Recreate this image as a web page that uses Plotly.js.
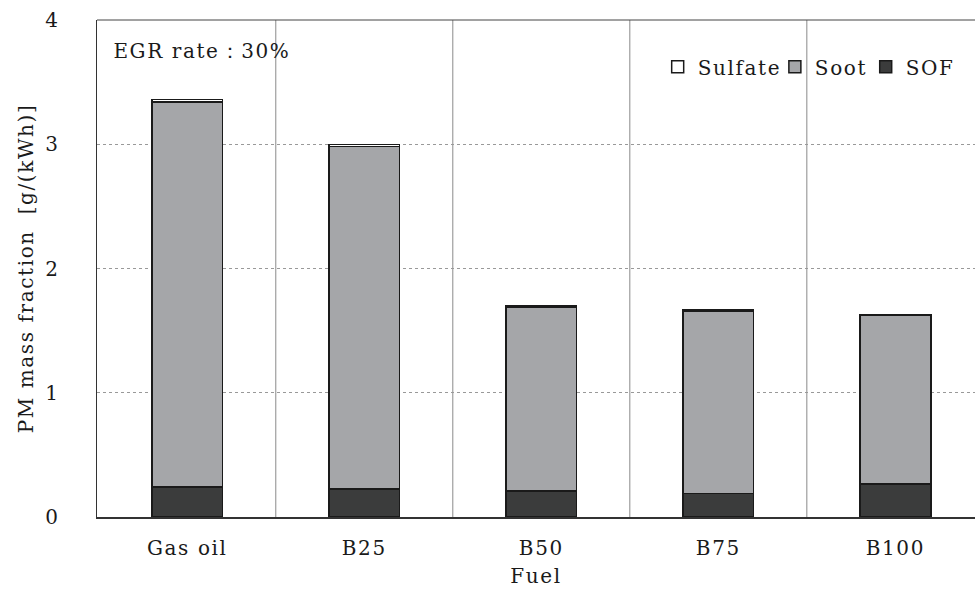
<!DOCTYPE html>
<html>
<head>
<meta charset="utf-8">
<script src="https://cdn.plot.ly/plotly-3.0.1.min.js"></script>
<style>
html,body{margin:0;padding:0;background:#fff;}
#chart{width:975px;height:594px;}
#chart text{letter-spacing:1.6px;}
</style>
</head>
<body>
<div id="chart"></div>
<script>
const fuels = ["Gas oil", "B25", "B50", "B75", "B100"];
const sof = [0.24, 0.225, 0.21, 0.19, 0.265];
const soot = [3.10, 2.755, 1.48, 1.47, 1.36];
const sulfate = [0.02, 0.02, 0.01, 0.01, 0.005];

const font = "DejaVu Serif, Liberation Serif, serif";
const line = {color: "#1a1a1a", width: 1.5};

const traces = [
  {type: "bar", name: "SOF", x: fuels, y: sof, marker: {color: "#3b3c3c", line: line}, width: 0.4},
  {type: "bar", name: "Soot", x: fuels, y: soot, marker: {color: "#a5a6a9", line: line}, width: 0.4},
  {type: "bar", name: "Sulfate", x: fuels, y: sulfate, marker: {color: "#ffffff", line: line}, width: 0.4}
];

const shapes = [0.5, 1.5, 2.5, 3.5].map(v => ({
  type: "line", xref: "x", yref: "paper", x0: v, x1: v, y0: 0, y1: 1,
  line: {color: "#8a8a8a", width: 1}, layer: "below"
}));
shapes.push({type: "line", xref: "paper", yref: "paper", x0: 0, x1: 1, y0: 1, y1: 1, line: {color: "#444", width: 1}});

const layout = {
  width: 975, height: 594,
  margin: {l: 97, r: 0, t: 20, b: 77},
  paper_bgcolor: "#fff", plot_bgcolor: "#fff",
  barmode: "stack",
  font: {family: font, size: 20, color: "#1a1a1a"},
  showlegend: true,
  legend: {orientation: "h", x: 0.978, xanchor: "right", y: 0.945, yanchor: "top",
           traceorder: "reversed", font: {size: 20}, bgcolor: "rgba(255,255,255,0)",
           itemwidth: 30, tracegroupgap: 0},
  xaxis: {
    type: "category", range: [-0.51, 4.45],
    showline: true, linecolor: "#333", linewidth: 2,
    showgrid: false, ticks: "", ticklabelstandoff: 12,
    title: {text: "Fuel", font: {size: 20}, standoff: 10}
  },
  yaxis: {
    range: [0, 4], dtick: 1,
    showline: true, linecolor: "#333", linewidth: 1.5,
    showgrid: true, gridcolor: "#999", griddash: "dot", gridwidth: 1,
    zeroline: false, ticks: "", ticklabelstandoff: 32,
    title: {text: "PM mass fraction  [g/(kWh)]", font: {size: 20}, standoff: 8}
  },
  shapes: shapes,
  annotations: [{
    xref: "paper", yref: "paper", x: 0.027, y: 0.965, xanchor: "left", yanchor: "top",
    text: "EGR rate：30%", showarrow: false, font: {size: 20}
  }]
};

Plotly.newPlot("chart", traces, layout, {displayModeBar: false, staticPlot: true});
</script>
</body>
</html>
